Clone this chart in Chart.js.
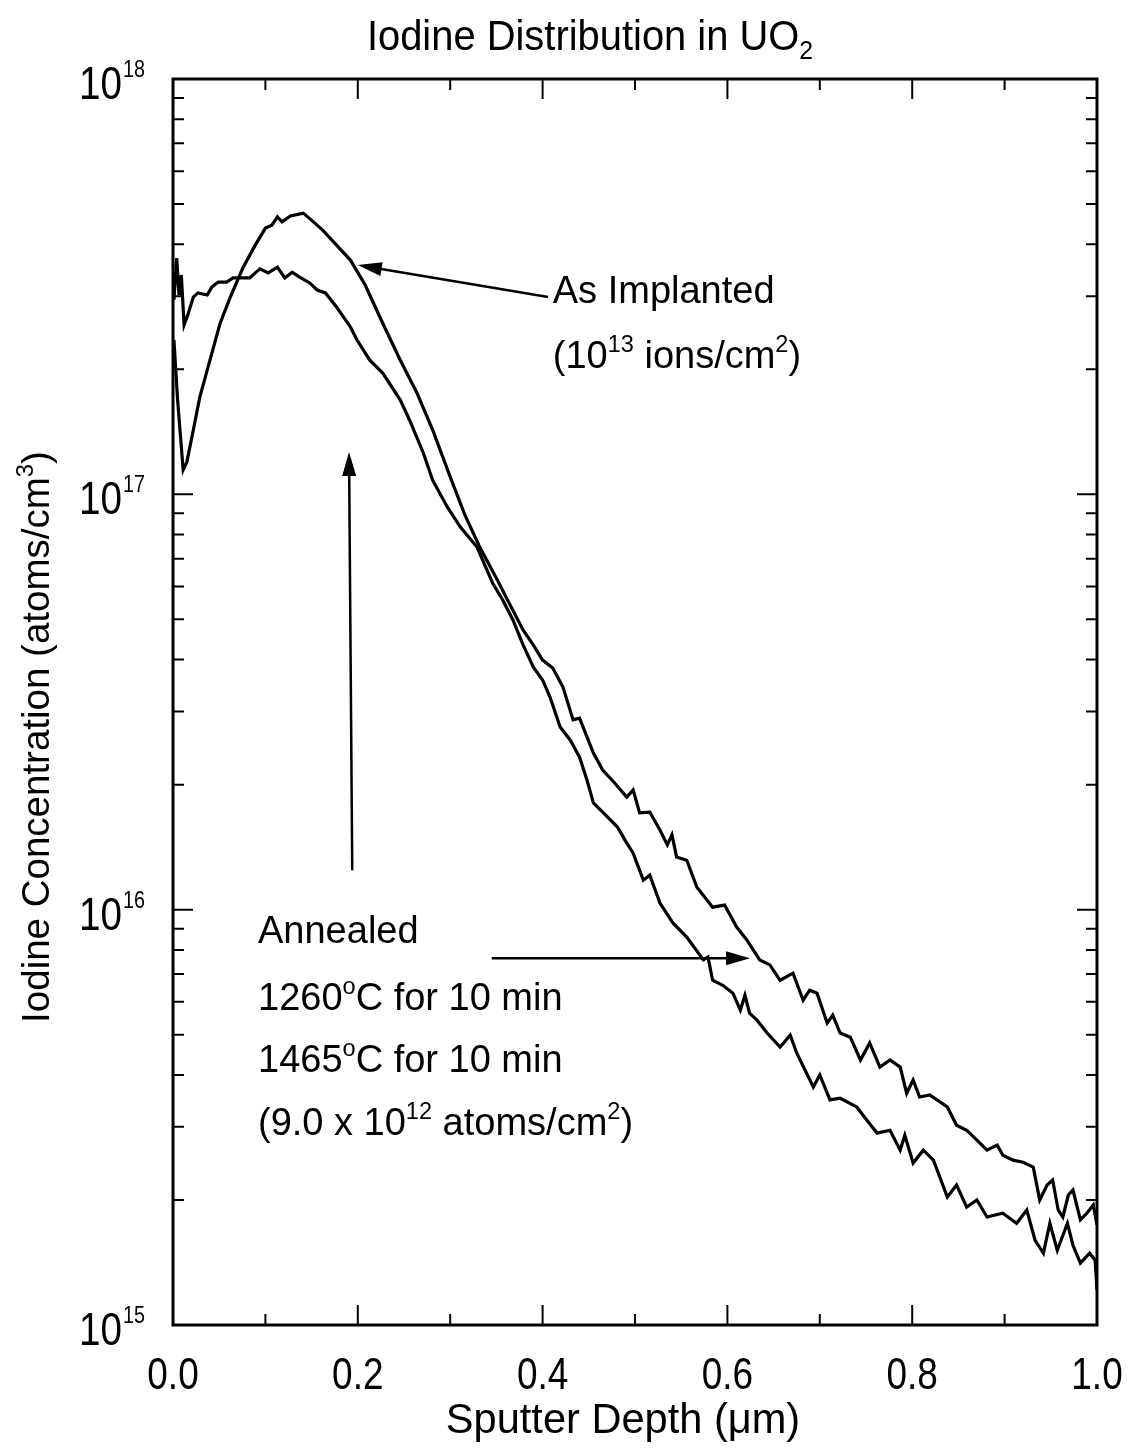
<!DOCTYPE html>
<html>
<head>
<meta charset="utf-8">
<script src="https://cdn.jsdelivr.net/npm/chart.js@4.4.1/dist/chart.umd.min.js"></script>
<style>
  html, body { margin: 0; padding: 0; background: #ffffff; }
  #wrap { width: 1135px; height: 1450px; }
</style>
</head>
<body>
<div id="wrap"><canvas id="chart" width="1135" height="1450"></canvas></div>
<script>
// Sputter depth (um) and log10 of iodine concentration (atoms/cm^3)
var asImplantedDepth = [
    0.001, 0.005, 0.011, 0.015, 0.022, 0.029, 0.040, 0.051, 0.062, 0.076,
    0.089, 0.100, 0.107, 0.113, 0.118, 0.127, 0.141, 0.152, 0.162, 0.175,
    0.192, 0.208, 0.227, 0.246, 0.264, 0.281, 0.300, 0.316, 0.332, 0.351,
    0.365, 0.379, 0.390, 0.400, 0.411, 0.422, 0.433, 0.440, 0.455, 0.465,
    0.478, 0.491, 0.498, 0.505, 0.516, 0.527, 0.535, 0.540, 0.545, 0.556,
    0.567, 0.584, 0.597, 0.610, 0.621, 0.635, 0.646, 0.657, 0.671, 0.682,
    0.689, 0.697, 0.708, 0.714, 0.722, 0.733, 0.744, 0.754, 0.765, 0.776,
    0.787, 0.794, 0.801, 0.808, 0.819, 0.838, 0.848, 0.859, 0.870, 0.881,
    0.892, 0.898, 0.909, 0.920, 0.931, 0.938, 0.946, 0.952, 0.958, 0.963,
    0.969, 0.974, 0.982, 0.989, 0.996, 1.000
];
var asImplantedLogConc = [
    17.372, 17.227, 17.059, 17.078, 17.155, 17.234, 17.323, 17.412, 17.475, 17.547,
    17.600, 17.641, 17.648, 17.668, 17.656, 17.670, 17.677, 17.656, 17.636, 17.605,
    17.564, 17.504, 17.412, 17.323, 17.244, 17.155, 17.042, 16.950, 16.873, 16.794,
    16.733, 16.673, 16.637, 16.601, 16.582, 16.536, 16.457, 16.461, 16.377, 16.336,
    16.305, 16.271, 16.288, 16.233, 16.235, 16.192, 16.156, 16.180, 16.127, 16.119,
    16.054, 16.006, 16.011, 15.958, 15.927, 15.879, 15.867, 15.830, 15.847, 15.782,
    15.806, 15.799, 15.727, 15.746, 15.703, 15.693, 15.638, 15.679, 15.621, 15.638,
    15.621, 15.558, 15.590, 15.549, 15.554, 15.525, 15.481, 15.469, 15.445, 15.421,
    15.433, 15.409, 15.397, 15.392, 15.380, 15.301, 15.337, 15.349, 15.277, 15.260,
    15.313, 15.325, 15.253, 15.269, 15.289, 15.241
];

var annealedDepth = [
    0.001, 0.004, 0.0065, 0.009, 0.012, 0.016, 0.022, 0.027, 0.037, 0.042,
    0.049, 0.058, 0.065, 0.083, 0.094, 0.103, 0.113, 0.121, 0.129, 0.137,
    0.148, 0.156, 0.165, 0.177, 0.192, 0.199, 0.213, 0.227, 0.246, 0.256,
    0.271, 0.281, 0.297, 0.311, 0.329, 0.346, 0.357, 0.368, 0.379, 0.390,
    0.400, 0.408, 0.419, 0.430, 0.440, 0.448, 0.455, 0.468, 0.481, 0.489,
    0.498, 0.509, 0.516, 0.527, 0.541, 0.556, 0.574, 0.579, 0.584, 0.595,
    0.606, 0.614, 0.619, 0.624, 0.632, 0.643, 0.657, 0.668, 0.675, 0.684,
    0.693, 0.700, 0.711, 0.722, 0.740, 0.751, 0.762, 0.776, 0.787, 0.792,
    0.801, 0.812, 0.823, 0.838, 0.848, 0.859, 0.870, 0.881, 0.898, 0.913,
    0.924, 0.933, 0.942, 0.949, 0.957, 0.968, 0.974, 0.982, 0.992, 0.998,
    1.000
];
var annealedLogConc = [
    17.468, 17.569, 17.480, 17.528, 17.408, 17.432, 17.475, 17.485, 17.480, 17.499,
    17.511, 17.511, 17.521, 17.521, 17.543, 17.533, 17.547, 17.521, 17.535, 17.523,
    17.509, 17.492, 17.485, 17.451, 17.403, 17.372, 17.323, 17.292, 17.227, 17.179,
    17.099, 17.034, 16.969, 16.921, 16.873, 16.786, 16.745, 16.697, 16.637, 16.584,
    16.553, 16.512, 16.440, 16.408, 16.367, 16.312, 16.257, 16.228, 16.199, 16.168,
    16.136, 16.071, 16.083, 16.016, 15.968, 15.934, 15.879, 15.886, 15.830, 15.818,
    15.799, 15.758, 15.794, 15.751, 15.734, 15.703, 15.669, 15.698, 15.655, 15.614,
    15.573, 15.602, 15.542, 15.546, 15.525, 15.493, 15.462, 15.469, 15.421, 15.457,
    15.390, 15.421, 15.397, 15.308, 15.337, 15.284, 15.301, 15.260, 15.269, 15.245,
    15.277, 15.204, 15.173, 15.245, 15.180, 15.245, 15.192, 15.149, 15.173, 15.156,
    15.084
];

// Axis ticks
var xMajorTicks = [0, 0.2, 0.4, 0.6, 0.8, 1.0];
var xTickLabels = ['0.0', '0.2', '0.4', '0.6', '0.8', '1.0'];
var xMinorTicks = [0.1, 0.3, 0.5, 0.7, 0.9];
var yDecadeExponents = [15, 16, 17, 18];
var yMinorMantissas = [2, 3, 4, 5, 6, 7, 8, 9];

function toPoints(depth, logConc) {
    return depth.map(function(d, i) {
        return { x: d, y: Math.pow(10, logConc[i]) };
    });
}

var SANS = '"Liberation Sans", Arial, Helvetica, sans-serif';

// draw a run of text pieces, some raised (sup) or lowered (sub)
// hs = horizontal squeeze for the narrow-looking labels
function drawRich(ctx, x, y, parts, size, align, hs) {
    hs = hs || 1;
    var widths = parts.map(function(p) {
        var s = p[1] ? size * 0.62 : size;
        ctx.font = s + 'px ' + SANS;
        return ctx.measureText(p[0]).width * hs;
    });
    var total = widths.reduce(function(a, b) { return a + b; }, 0);
    var cx = x;
    if (align === 'center') cx = x - total / 2;
    if (align === 'right') cx = x - total;
    ctx.textAlign = 'left';
    ctx.textBaseline = 'alphabetic';
    parts.forEach(function(p, i) {
        var s = p[1] ? size * 0.62 : size;
        var dy = 0;
        if (p[1] === 'sup') dy = -size * 0.42;
        if (p[1] === 'sub') dy = size * 0.22;
        ctx.font = s + 'px ' + SANS;
        ctx.save();
        ctx.translate(cx, y + dy);
        ctx.scale(hs, 1);
        ctx.fillText(p[0], 0, 0);
        ctx.restore();
        cx += widths[i];
    });
}

function arrow(ctx, x1, y1, x2, y2) {
    var ang = Math.atan2(y2 - y1, x2 - x1);
    var len = 24, half = 7;
    ctx.beginPath();
    ctx.moveTo(x1, y1);
    ctx.lineTo(x2 - Math.cos(ang) * len * 0.8, y2 - Math.sin(ang) * len * 0.8);
    ctx.stroke();
    ctx.beginPath();
    ctx.moveTo(x2, y2);
    ctx.lineTo(x2 - Math.cos(ang) * len + Math.sin(ang) * half, y2 - Math.sin(ang) * len - Math.cos(ang) * half);
    ctx.lineTo(x2 - Math.cos(ang) * len - Math.sin(ang) * half, y2 - Math.sin(ang) * len + Math.cos(ang) * half);
    ctx.closePath();
    ctx.fill();
}

var framePlugin = {
    id: 'frame',
    afterDraw: function(chart) {
        var ctx = chart.ctx;
        var a = chart.chartArea;
        var xs = chart.scales.x, ys = chart.scales.y;
        function px(v) { return xs.getPixelForValue(v); }
        function py(e) { return ys.getPixelForValue(Math.pow(10, e)); }

        ctx.save();
        ctx.strokeStyle = '#000';
        ctx.fillStyle = '#000';

        // frame
        ctx.lineWidth = 3;
        ctx.strokeRect(a.left, a.top, a.right - a.left, a.bottom - a.top);

        // inward ticks on all four sides
        ctx.lineWidth = 2;
        ctx.beginPath();
        xMajorTicks.forEach(function(v) {
            var x = px(v);
            ctx.moveTo(x, a.bottom); ctx.lineTo(x, a.bottom - 20);
            ctx.moveTo(x, a.top); ctx.lineTo(x, a.top + 20);
        });
        xMinorTicks.forEach(function(v) {
            var x = px(v);
            ctx.moveTo(x, a.bottom); ctx.lineTo(x, a.bottom - 11);
            ctx.moveTo(x, a.top); ctx.lineTo(x, a.top + 11);
        });
        yDecadeExponents.forEach(function(e) {
            var y = py(e);
            ctx.moveTo(a.left, y); ctx.lineTo(a.left + 20, y);
            ctx.moveTo(a.right, y); ctx.lineTo(a.right - 20, y);
            if (e < 18) {
                yMinorMantissas.forEach(function(m) {
                    var yy = ys.getPixelForValue(m * Math.pow(10, e));
                    ctx.moveTo(a.left, yy); ctx.lineTo(a.left + 11, yy);
                    ctx.moveTo(a.right, yy); ctx.lineTo(a.right - 11, yy);
                });
            }
        });
        ctx.stroke();

        // tick labels
        xMajorTicks.forEach(function(v, i) {
            drawRich(ctx, px(v), a.bottom + 64, [[xTickLabels[i]]], 44, 'center', 0.84);
        });
        yDecadeExponents.forEach(function(e) {
            var y = py(e) + 20;
            drawRich(ctx, 122, y, [['10']], 46, 'right', 0.84);
            drawRich(ctx, 123, y - 6, [[String(e), 'sup']], 38, 'left', 0.84);
        });

        // titles
        drawRich(ctx, 590, 50, [['Iodine Distribution in UO'], ['2', 'sub']], 42, 'center', 0.95);
        drawRich(ctx, 623, 1433, [['Sputter Depth ('], ['\u03BCm)']], 42, 'center', 0.99);
        ctx.save();
        ctx.translate(49, 737);
        ctx.rotate(-Math.PI / 2);
        drawRich(ctx, 0, 0, [['Iodine Concentration (atoms/cm'], ['3', 'sup'], [')']], 38.5, 'center', 1);
        ctx.restore();

        // annotations
        var fs = 38;
        drawRich(ctx, px(0.411), py(17.461), [['As Implanted']], fs, 'left', 1);
        drawRich(ctx, px(0.411), py(17.304), [['(10'], ['13', 'sup'], [' ions/cm'], ['2', 'sup'], [')']], fs, 'left', 1);
        drawRich(ctx, px(0.092), py(15.920), [['Annealed']], fs, 'left', 1);
        drawRich(ctx, px(0.092), py(15.758), [['1260'], ['o', 'sup'], ['C for 10 min']], fs, 'left', 1);
        drawRich(ctx, px(0.092), py(15.609), [['1465'], ['o', 'sup'], ['C for 10 min']], fs, 'left', 1);
        drawRich(ctx, px(0.092), py(15.457), [['(9.0 x 10'], ['12', 'sup'], [' atoms/cm'], ['2', 'sup'], [')']], fs, 'left', 1);

        ctx.lineWidth = 2.5;
        arrow(ctx, px(0.406), py(17.475), px(0.200), py(17.552));
        arrow(ctx, px(0.194), py(16.095), px(0.1905), py(17.102));
        arrow(ctx, px(0.345), py(15.883), px(0.6245), py(15.883));
        ctx.restore();
    }
};

new Chart(document.getElementById('chart'), {
    type: 'scatter',
    data: {
        datasets: [
            {
                label: 'As Implanted',
                data: toPoints(asImplantedDepth, asImplantedLogConc),
                showLine: true,
                borderColor: '#000000',
                borderWidth: 3.2,
                pointRadius: 0,
                tension: 0
            },
            {
                label: 'Annealed',
                data: toPoints(annealedDepth, annealedLogConc),
                showLine: true,
                borderColor: '#000000',
                borderWidth: 3.2,
                pointRadius: 0,
                tension: 0
            }
        ]
    },
    options: {
        responsive: false,
        animation: false,
        devicePixelRatio: 1,
        layout: { padding: { top: 79, right: 38, left: 0, bottom: 0 } },
        plugins: {
            legend: { display: false },
            tooltip: { enabled: false },
            title: { display: false }
        },
        scales: {
            x: {
                type: 'linear',
                min: 0,
                max: 1,
                grid: { display: false },
                border: { display: false },
                ticks: { display: false },
                afterFit: function(s) { s.height = 125; }
            },
            y: {
                type: 'logarithmic',
                min: 1e15,
                max: 1e18,
                grid: { display: false },
                border: { display: false },
                ticks: { display: false },
                afterFit: function(s) { s.width = 173; }
            }
        }
    },
    plugins: [framePlugin]
});
</script>
</body>
</html>
